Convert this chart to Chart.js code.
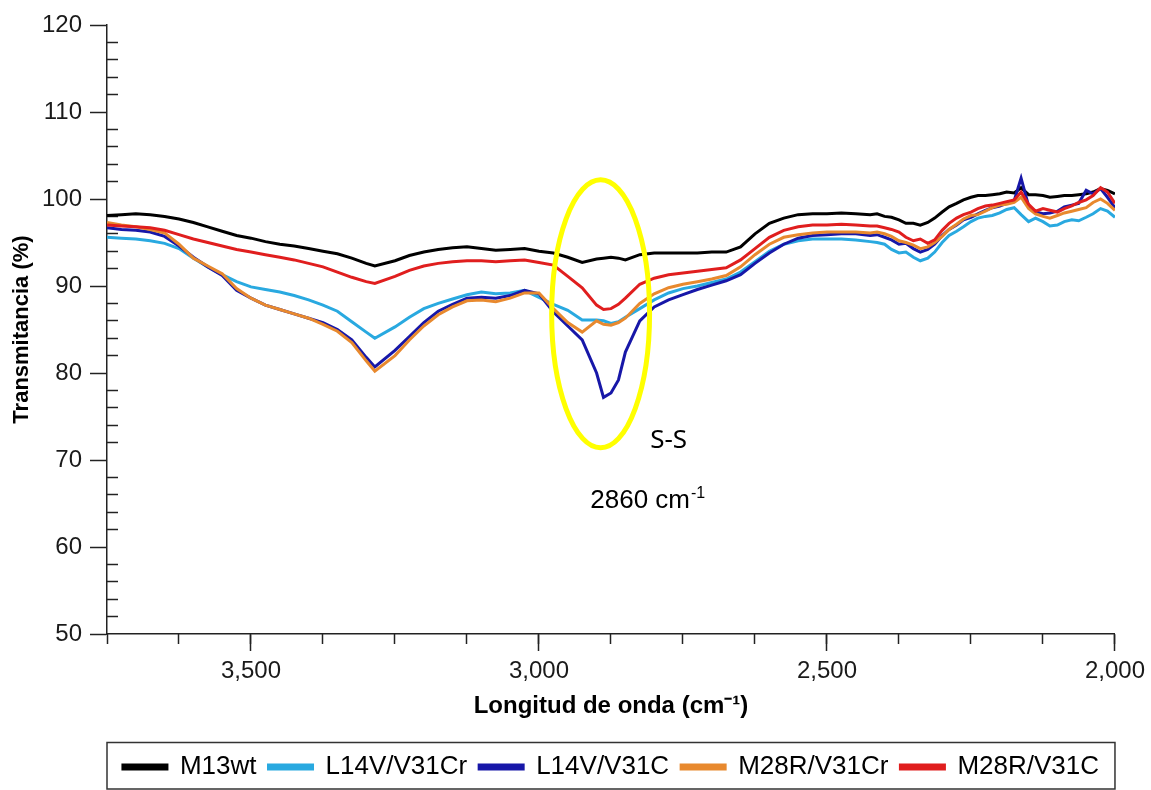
<!DOCTYPE html>
<html lang="es">
<head>
  <meta charset="UTF-8">
  <title>Transmitancia FTIR</title>
  <script src="https://cdn.jsdelivr.net/npm/chart.js"></script>
  <style>
    body {
      margin: 0;
      background: #fff;
    }

    #wrap {
      width: 1151px;
      height: 790px;
    }
  </style>
</head>
<body>
  <div id="wrap">
    <canvas id="ftirChart" width="1151" height="790"></canvas>
  </div>

  <script>
    // wavenumbers (cm-1), shared by every spectrum; denser where the traces are noisy
    const waveNumbers = [
      3750, 3725, 3700, 3675, 3650, 3625, 3600, 3575, 3550, 3525,
      3500, 3475, 3450, 3425, 3400, 3375, 3350, 3325, 3300, 3285,
      3250, 3225, 3200, 3175, 3150, 3125, 3100, 3075, 3050, 3025,
      3000, 2975, 2950, 2925, 2900, 2888, 2875, 2862, 2850, 2825,
      2800, 2775, 2750, 2725, 2700, 2675, 2650, 2625, 2600, 2575,
      2550, 2525, 2500, 2475, 2450, 2425, 2413, 2400, 2388, 2375,
      2363, 2350, 2338, 2325, 2313, 2300, 2288, 2275, 2263, 2250,
      2238, 2225, 2213, 2200, 2188, 2175, 2163, 2150, 2138, 2125,
      2113, 2100, 2088, 2075, 2063, 2050, 2038, 2025, 2013, 2000
    ];

    const m13wt = [
      98.1, 98.2, 98.3, 98.2, 98.0, 97.7, 97.3, 96.8, 96.3, 95.8,
      95.5, 95.1, 94.8, 94.6, 94.3, 94.0, 93.7, 93.2, 92.6, 92.3,
      92.9, 93.5, 93.9, 94.2, 94.4, 94.5, 94.3, 94.1, 94.2, 94.3,
      94.0, 93.8, 93.3, 92.7, 93.1, 93.2, 93.3, 93.2, 93.0, 93.6,
      93.8, 93.8, 93.8, 93.8, 93.9, 93.9, 94.5, 96.0, 97.2, 97.8,
      98.2, 98.3, 98.3, 98.4, 98.3, 98.2, 98.3, 98.0, 97.9, 97.6,
      97.2, 97.2, 97.0, 97.3, 97.8, 98.5, 99.1, 99.5, 99.9, 100.2,
      100.4, 100.4, 100.5, 100.6, 100.8, 100.7, 101.3, 100.5, 100.5, 100.4,
      100.2, 100.3, 100.4, 100.4, 100.5, 100.6, 100.8, 101.2, 101.0, 100.6
    ];

    const l14vV31cr = [
      95.6, 95.5, 95.4, 95.2, 94.9, 94.3, 93.2, 92.2, 91.3, 90.5,
      89.9, 89.6, 89.3, 88.9, 88.4, 87.8, 87.1, 85.9, 84.7, 84.0,
      85.3, 86.4, 87.4, 88.0, 88.5, 89.0, 89.3, 89.1, 89.2, 89.5,
      88.7, 87.9, 87.2, 86.1, 86.1, 86.0, 85.7, 85.9, 86.4, 87.4,
      88.4, 89.2, 89.7, 90.0, 90.4, 90.8, 91.6, 92.8, 94.0, 94.8,
      95.2, 95.4, 95.4, 95.4, 95.3, 95.1, 95.0, 94.8, 94.2, 93.8,
      93.9, 93.3, 92.9, 93.2, 93.9, 95.0, 95.8, 96.3, 96.8, 97.4,
      97.8, 98.0, 98.1, 98.4, 98.8, 99.0, 98.2, 97.4, 97.8, 97.4,
      96.9, 97.0, 97.4, 97.6, 97.5, 97.9, 98.3, 98.9, 98.6, 97.9
    ];

    const l14vV31c = [
      96.7, 96.5, 96.4, 96.2, 95.7, 94.6, 93.3, 92.2, 91.2, 89.5,
      88.6, 87.8, 87.3, 86.8, 86.3, 85.8, 85.0, 83.8, 81.8, 80.7,
      82.6, 84.2, 85.8, 87.1, 87.9, 88.6, 88.7, 88.6, 88.9, 89.5,
      89.1, 87.0, 85.4, 83.8, 80.0, 77.2, 77.7, 79.2, 82.4, 86.0,
      87.6, 88.4, 89.0, 89.6, 90.1, 90.6, 91.3, 92.6, 93.8, 94.8,
      95.5, 95.8, 95.9, 96.0, 96.0, 95.8, 95.9, 95.6, 95.3, 94.8,
      94.9, 94.3, 93.9, 94.2, 94.8, 95.8, 96.5, 97.0, 97.6, 97.9,
      98.3, 98.7, 99.0, 99.2, 99.5, 99.8, 102.4, 99.2, 98.5, 98.3,
      98.4, 98.6, 99.1, 99.3, 99.5, 101.0, 100.6, 101.2, 100.2, 99.0
    ];

    const m28rV31cr = [
      97.3, 97.0, 96.8, 96.5, 96.1, 94.8, 93.2, 92.3, 91.4, 89.7,
      88.6, 87.8, 87.3, 86.8, 86.3, 85.6, 84.8, 83.5, 81.4, 80.2,
      82.0, 83.8, 85.4, 86.7, 87.6, 88.3, 88.4, 88.2, 88.6, 89.2,
      89.2, 87.4, 85.8, 84.7, 86.0, 85.6, 85.5, 85.8, 86.3, 88.0,
      89.1, 89.8, 90.2, 90.5, 90.8, 91.2, 92.2, 93.6, 94.8, 95.6,
      95.9, 96.1, 96.2, 96.2, 96.2, 96.1, 96.2, 96.0, 95.7, 95.2,
      95.0, 94.7, 94.3, 94.5, 95.0, 95.7, 96.5, 97.1, 97.7, 98.1,
      98.2, 98.6, 99.0, 99.3, 99.4, 99.6, 100.2, 98.9, 98.3, 98.0,
      97.8, 98.1, 98.4, 98.6, 98.8, 99.0, 99.6, 100.0, 99.5, 98.7
    ];

    const m28rV31c = [
      97.0, 96.9, 96.8, 96.7, 96.4, 95.9, 95.4, 95.0, 94.6, 94.2,
      93.9, 93.6, 93.3, 93.0, 92.6, 92.2, 91.6, 91.0, 90.5, 90.3,
      91.1, 91.8, 92.3, 92.6, 92.8, 92.9, 92.9, 92.8, 92.9, 93.0,
      92.7, 92.4, 91.1, 89.8, 87.8, 87.3, 87.4, 87.9, 88.6, 90.2,
      90.9, 91.3, 91.5, 91.7, 91.9, 92.1, 93.0, 94.3, 95.6, 96.4,
      96.8, 97.0, 97.0, 97.1, 97.0, 96.9, 96.9, 96.7, 96.5, 96.2,
      95.6, 95.2, 95.4, 94.9, 95.3, 96.4, 97.2, 97.8, 98.2, 98.5,
      98.9, 99.2, 99.3, 99.5, 99.7, 99.9, 100.8, 99.4, 98.6, 98.9,
      98.7, 98.5, 98.9, 99.2, 99.6, 99.9, 100.4, 101.3, 100.8, 99.5
    ];

    const seriesNames = ['M13wt', 'L14V/V31Cr', 'L14V/V31C', 'M28R/V31Cr', 'M28R/V31C'];
    const seriesValues = [m13wt, l14vV31cr, l14vV31c, m28rV31cr, m28rV31c];
    const seriesColors = ['#000000', '#29a9e0', '#1717a8', '#e8892e', '#e01e1e'];
    // red drawn on top, black underneath
    const drawOrder = [4, 3, 2, 1, 0];

    const xMajorTicks = [3500, 3000, 2500, 2000];
    const xMinorTicks = [3750, 3625, 3500, 3375, 3250, 3125, 3000, 2875, 2750, 2625, 2500, 2375, 2250, 2125, 2000];
    const yMajorTicks = [50, 60, 70, 80, 90, 100, 110, 120];
    const yMinorTicks = [
      52, 54, 56, 58, 62, 64, 66, 68, 72, 74, 76, 78, 82, 84, 86, 88,
      92, 94, 96, 98, 102, 104, 106, 108, 112, 114, 116, 118
    ];

    // S-S band marker (ellipse centre and half axes in data units)
    const ssBand = { wn: 2893, t: 86.8, dWn: 85, dT: 15.4 };
    const ssLabel = { text: 'S-S', wn: 2807, t: 71.4 };
    const ssPosition = { text: '2860 cm', sup: '-1', wn: 2911, t: 64.5 };

    const sans = "'Liberation Sans', Arial, Helvetica, sans-serif";
    const axisColor = '#222';

    const bandMarker = {
      id: 'bandMarker',
      afterDatasetsDraw(chart) {
        const { ctx, scales: { x, y } } = chart;
        const cx = x.getPixelForValue(ssBand.wn);
        const cy = y.getPixelForValue(ssBand.t);
        const rx = Math.abs(x.getPixelForValue(ssBand.wn - ssBand.dWn) - cx);
        const ry = Math.abs(y.getPixelForValue(ssBand.t - ssBand.dT) - cy);

        ctx.save();
        ctx.strokeStyle = '#ffff00';
        ctx.lineWidth = 5;
        ctx.beginPath();
        ctx.ellipse(cx, cy, rx, ry, 0, 0, Math.PI * 2);
        ctx.stroke();

        ctx.fillStyle = '#000';
        ctx.textBaseline = 'alphabetic';
        ctx.textAlign = 'left';
        ctx.font = "26px 'Noto Sans', 'Open Sans', sans-serif";
        ctx.fillText(ssLabel.text, x.getPixelForValue(ssLabel.wn), y.getPixelForValue(ssLabel.t));

        const px = x.getPixelForValue(ssPosition.wn);
        const py = y.getPixelForValue(ssPosition.t);
        ctx.font = '26px ' + sans;
        ctx.fillText(ssPosition.text, px, py);
        const w = ctx.measureText(ssPosition.text).width;
        ctx.font = '16px ' + sans;
        ctx.fillText(ssPosition.sup, px + w + 1, py - 10);
        ctx.restore();
      }
    };

    // frame around the legend row
    const legendFrame = {
      id: 'legendFrame',
      afterDraw(chart) {
        const { ctx, chartArea, legend } = chart;
        ctx.save();
        ctx.strokeStyle = '#333';
        ctx.lineWidth = 1.5;
        ctx.strokeRect(chartArea.left, legend.top + 0.5, chartArea.right - chartArea.left, legend.bottom - legend.top - 1.5);
        ctx.restore();
      }
    };

    const datasets = seriesNames.map((name, i) => ({
      label: name,
      data: waveNumbers.map((wn, k) => ({ x: wn, y: seriesValues[i][k] })),
      borderColor: seriesColors[i],
      backgroundColor: seriesColors[i],
      borderWidth: 3,
      pointRadius: 0,
      tension: 0,
      fill: false,
      order: drawOrder[i]
    }));

    Chart.defaults.font.family = sans;

    new Chart(document.getElementById('ftirChart'), {
      type: 'line',
      data: { datasets },
      options: {
        responsive: false,
        animation: false,
        layout: { padding: { top: 25, right: 34, bottom: 0, left: 0 } },
        plugins: {
          tooltip: { enabled: false },
          legend: {
            position: 'bottom',
            fullSize: false,
            labels: {
              boxWidth: 44,
              boxHeight: 4,
              padding: 12,
              color: '#000',
              font: { size: 26 },
              sort: (a, b) => a.datasetIndex - b.datasetIndex
            }
          }
        },
        scales: {
          x: {
            type: 'linear',
            reverse: true,
            min: 2000,
            max: 3750,
            afterBuildTicks: s => { s.ticks = xMajorTicks.map(value => ({ value })); },
            afterFit: s => { s.height = 108; },
            grid: { drawOnChartArea: false, tickLength: 17, tickWidth: 1.5, tickColor: axisColor },
            border: { color: axisColor, width: 1.5 },
            ticks: {
              color: '#1a1a1a',
              font: { size: 24 },
              padding: 6,
              maxRotation: 0,
              autoSkip: false,
              callback: v => v.toLocaleString('en-US')
            },
            title: {
              display: true,
              text: 'Longitud de onda (cm⁻¹)',
              color: '#000',
              font: { size: 24, weight: 'bold' },
              padding: { top: 0, bottom: 21 }
            }
          },
          xMinor: {
            type: 'linear',
            axis: 'x',
            reverse: true,
            min: 2000,
            max: 3750,
            position: { y: 50 },
            afterBuildTicks: s => { s.ticks = xMinorTicks.map(value => ({ value })); },
            grid: { drawOnChartArea: false, tickLength: 10, tickWidth: 1.5, tickColor: axisColor },
            border: { display: false },
            ticks: { display: false }
          },
          y: {
            type: 'linear',
            min: 50,
            max: 120,
            afterBuildTicks: s => { s.ticks = yMajorTicks.map(value => ({ value })); },
            afterFit: s => { s.width = 107; },
            grid: { drawOnChartArea: false, tickLength: 17, tickWidth: 1.5, tickColor: axisColor },
            border: { color: axisColor, width: 1.5 },
            ticks: { color: '#1a1a1a', font: { size: 24 }, padding: 8 },
            title: {
              display: true,
              text: 'Transmitancia (%)',
              color: '#000',
              font: { size: 22, weight: 'bold' },
              padding: { top: 9, bottom: 0 }
            }
          },
          yMinor: {
            type: 'linear',
            axis: 'y',
            min: 50,
            max: 120,
            position: { x: 3750 },
            afterBuildTicks: s => { s.ticks = yMinorTicks.map(value => ({ value })); },
            grid: { drawOnChartArea: false, tickLength: -11, tickWidth: 1.5, tickColor: axisColor },
            border: { display: false },
            ticks: { display: false }
          }
        }
      },
      plugins: [bandMarker, legendFrame]
    });
  </script>
</body>
</html>
